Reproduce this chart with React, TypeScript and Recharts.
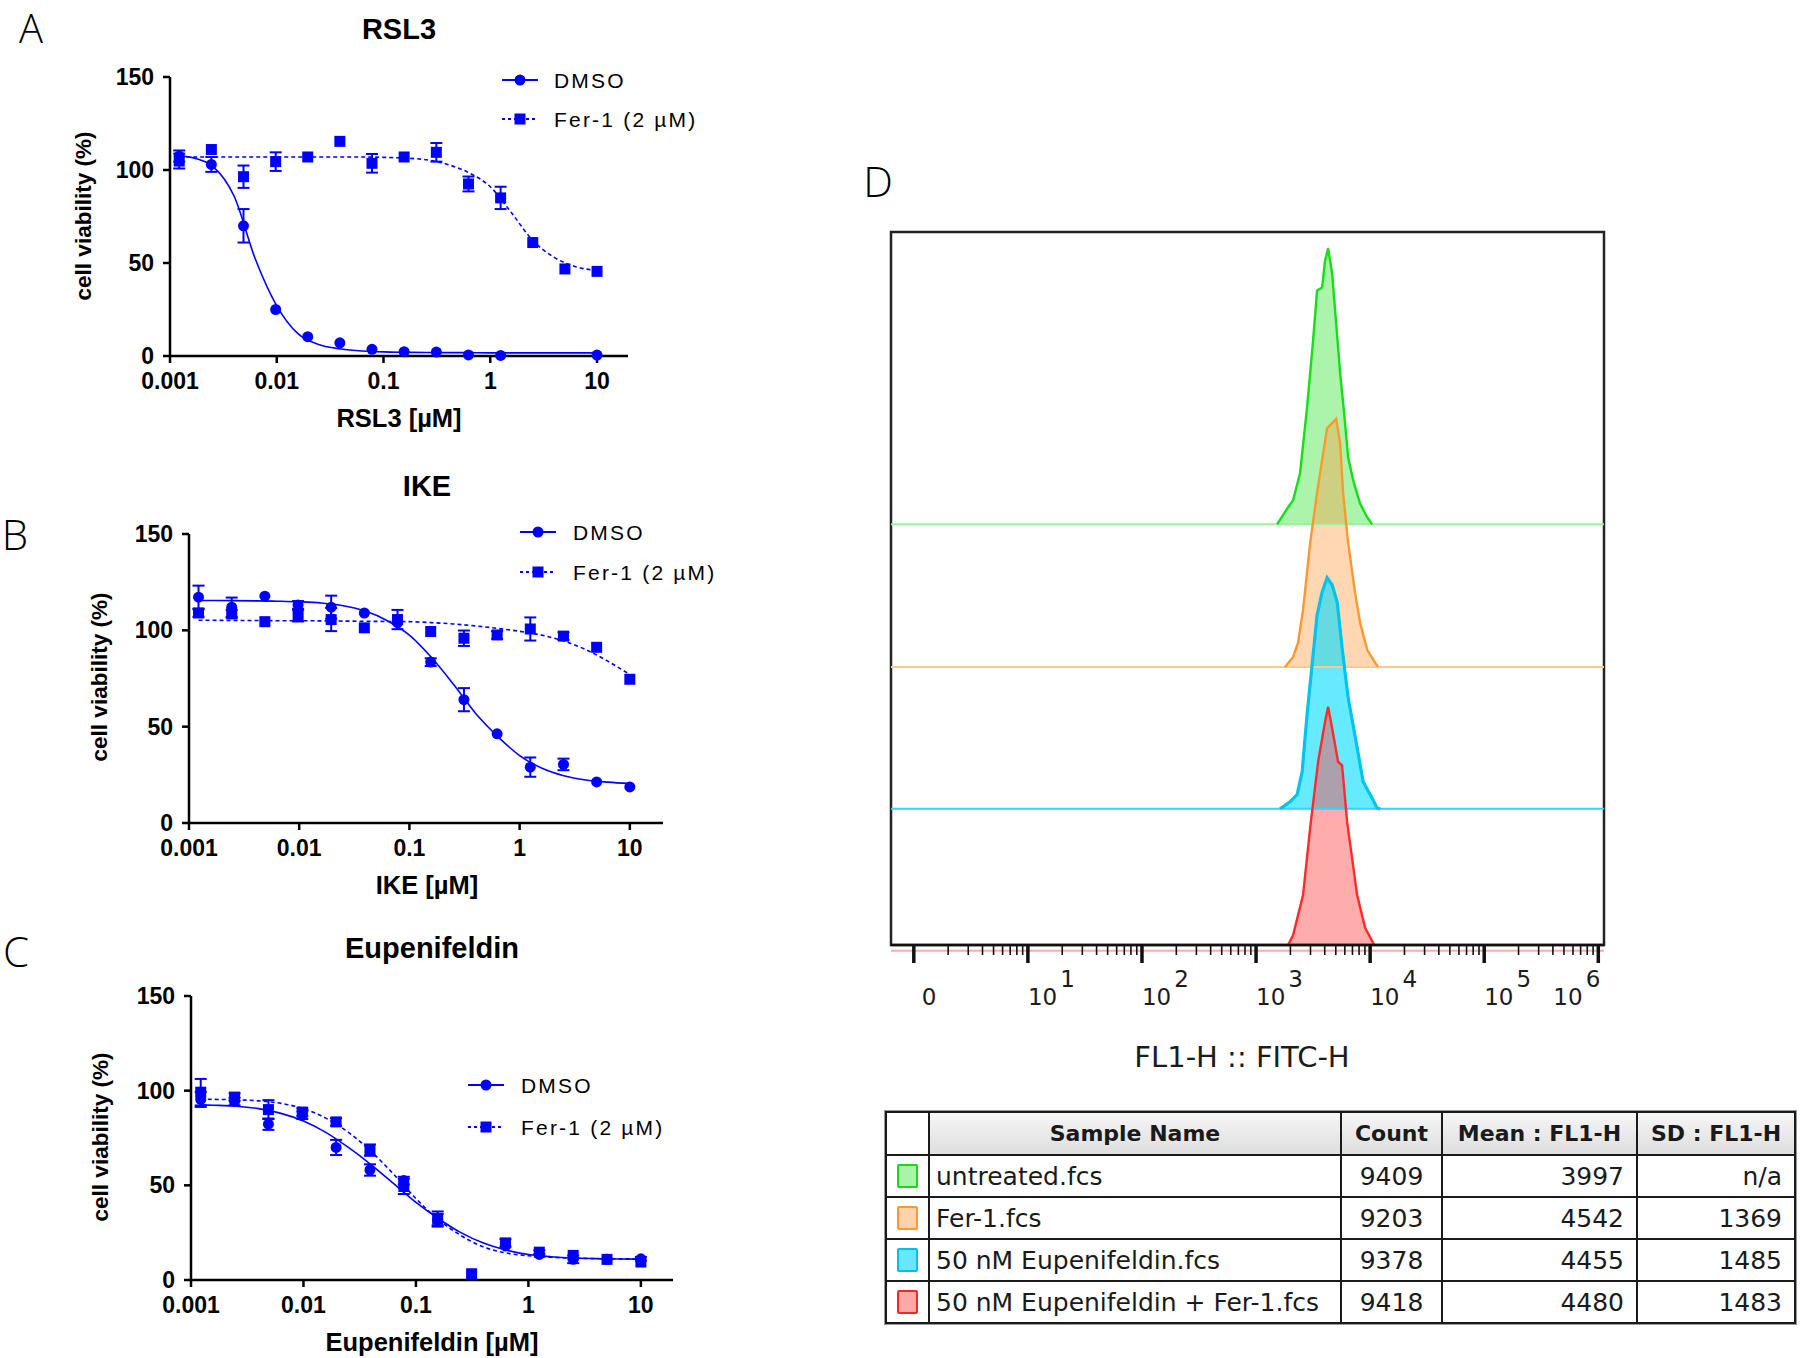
import React from "react";
import {
  ComposedChart,
  Line,
  Scatter,
  XAxis,
  YAxis,
  ErrorBar,
  Area,
  ReferenceLine,
  ReferenceArea,
} from "recharts";

const BLUE = "#0000ff";
const SANS = "'Liberation Sans', Arial, sans-serif";
const DEJAVU = "'DejaVu Sans', sans-serif";

// 2-fold dilution series (µM)
const conc = [0.00122, 0.00244, 0.00488, 0.00977, 0.0195, 0.039, 0.078, 0.156, 0.3125, 0.625, 1.25, 2.5, 5, 10];
const fitX = [0.00122, 0.00158, 0.00251, 0.00398, 0.00631, 0.01, 0.0158, 0.0251, 0.0398, 0.0631, 0.1, 0.158, 0.251, 0.398, 0.631, 1, 1.58, 2.51, 3.98, 6.31, 10];
const doseTicks = [0.001, 0.01, 0.1, 1, 10];
const viabilityTicks = [0, 50, 100, 150];

// RSL3
const rslDmso = [107.5, 103, 70, 25, 10.4, 7.1, 3.6, 2.3, 2.1, 0.6, 0.3, null, null, 0.5];
const rslDmsoErr = [3, 4, 9, 0, 0, 0, 0, 0, 0, 0, 0, 0, 0, 0];
const rslFer = [104.8, 111, 96.4, 104.5, 107, 115.4, 103.6, 107, 109.5, 92.5, 85, 61, 46.8, 45.5];
const rslFerErr = [4, 0, 6, 5, 0, 0, 5, 0, 5, 4, 6, 0, 0, 0];
const rslDmsoFit = [107.5, 106.8, 102, 86, 52, 27, 12, 6, 3.8, 2.7, 2.2, 2, 1.9, 1.8, 1.8, 1.7, 1.7, 1.7, 1.7, 1.7, 1.7];
const rslFerFit = [107, 107, 107, 107, 107, 107, 107, 107, 107, 107, 106.8, 106.4, 105.5, 103, 98.5, 91, 77, 62, 53, 48, 46];

// IKE
const ikeDmso = [117.2, 112, 117.7, 113.2, 112, 109, 104, 83.5, 64, 46.3, 29, 30.4, 21.3, 18.7];
const ikeDmsoErr = [6, 5, 0, 2, 6, 0, 0, 2, 6, 0, 5, 3, 0, 0];
const ikeFer = [109, 108.5, 104.5, 107.6, 105.6, 101.3, 105.6, 99.4, 95.9, 97.6, 100.7, 97, 91.2, 74.6];
const ikeFerErr = [2, 2, 0, 3, 6, 0, 5, 0, 4, 2, 6, 2, 0, 0];
const ikeDmsoFit = [115.5, 115.5, 115.4, 115.3, 115.1, 114.8, 114.2, 112.8, 110, 105, 97.5, 86, 72, 57, 45, 35, 28.5, 24.5, 22.3, 21.2, 20.5];
const ikeFerFit = [105.2, 105.2, 105.1, 105.1, 105, 105, 104.9, 104.8, 104.7, 104.6, 104.5, 104, 103.3, 102.3, 101, 99.5, 97.5, 94.5, 90, 84, 77];

// Eupenifeldin
const eupDmso = [95.4, 94.3, 82.3, 87, 70, 58.1, 52.5, 31.9, null, 18, 13.5, 10.9, 10.9, 11.2];
const eupDmsoErr = [4, 2, 3, 2, 4, 3, 2, 3, 0, 0, 0, 2, 0, 1];
const eupFer = [99.2, 96.6, 90, 88.7, 83.5, 68.6, 49.4, 32.2, 3.3, 19.6, 14.7, 13, 10.9, 9.5];
const eupFerErr = [7, 2, 5, 2, 2, 3, 4, 4, 0, 2, 1, 0, 0, 0];
const eupDmsoFit = [92.5, 92.3, 91.8, 90.5, 88, 84, 78, 70, 61, 51, 41, 32.5, 25, 19.5, 15.8, 13.5, 12.3, 11.6, 11.3, 11.1, 11];
const eupFerFit = [95.5, 95.4, 95.2, 94.6, 93.3, 90.5, 85.5, 78, 68, 56, 43, 32, 23.5, 17.5, 14.3, 12.8, 12, 11.6, 11.3, 11.2, 11.1];

// Flow histograms: x in decades of FL1-H, height in % of plot height
const greenX = [3.184, 3.281, 3.325, 3.386, 3.447, 3.5, 3.535, 3.579, 3.605, 3.632, 3.667, 3.702, 3.737, 3.772, 3.807, 3.851, 3.912, 3.974, 4.018];
const greenH = [0, 2.4, 3.4, 7.2, 16.4, 25.8, 32.8, 33.2, 37.0, 38.7, 35.2, 28.2, 21.2, 15.6, 9.4, 6.2, 2.9, 1.0, 0];
const orangeX = [3.254, 3.325, 3.368, 3.412, 3.474, 3.535, 3.579, 3.623, 3.667, 3.702, 3.737, 3.763, 3.807, 3.868, 3.912, 3.974, 4.044, 4.07];
const orangeH = [0, 1.4, 3.4, 8.0, 17.4, 24.4, 29.0, 33.5, 34.2, 34.8, 31.4, 24.4, 17.4, 10.4, 6.2, 2.4, 0.6, 0];
const cyanX = [3.211, 3.298, 3.36, 3.404, 3.447, 3.491, 3.535, 3.579, 3.623, 3.667, 3.711, 3.754, 3.807, 3.886, 3.939, 4.018, 4.061, 4.088];
const cyanH = [0, 1.0, 2.0, 5.2, 13.2, 20.2, 27.2, 30.4, 32.4, 31.4, 29.0, 22.6, 15.6, 8.6, 3.8, 1.5, 0.1, 0];
const redX = [3.281, 3.325, 3.412, 3.474, 3.544, 3.605, 3.632, 3.667, 3.719, 3.754, 3.798, 3.886, 3.956, 4.026, 4.04];
const redH = [0, 1.4, 7.0, 16.4, 25.7, 31.3, 33.4, 30.4, 25.7, 25.2, 17.3, 7.0, 2.4, 0.3, 0];
const flowMajor = [0, 1, 2, 3, 4, 5, 6];
const minorSteps = [2, 3, 4, 5, 6, 7, 8, 9];

// Table
const sampleNames = ["untreated.fcs", "Fer-1.fcs", "50 nM Eupenifeldin.fcs", "50 nM Eupenifeldin + Fer-1.fcs"];
const sampleCounts = ["9409", "9203", "9378", "9418"];
const sampleMeans = ["3997", "4542", "4455", "4480"];
const sampleSDs = ["n/a", "1369", "1485", "1483"];

const layers = [
  { x: greenX, h: greenH, offset: 59.0, stroke: "#14e014", fill: "#18e018", fillOpacity: 0.36, base: "#9af29a" },
  { x: orangeX, h: orangeH, offset: 39.0, stroke: "#ff982c", fill: "#ff9c40", fillOpacity: 0.4, base: "#ffc894" },
  { x: cyanX, h: cyanH, offset: 19.1, stroke: "#00c4ee", fill: "#00dcff", fillOpacity: 0.6, base: "#30d4f6" },
  { x: redX, h: redH, offset: 0, stroke: "#ff2a2a", fill: "#ff4848", fillOpacity: 0.45, base: "#ffaaaa" },
];
const swatches = [
  { fill: "#a8f5a8", stroke: "#18d818" },
  { fill: "#ffd4ac", stroke: "#ff9830" },
  { fill: "#66e6ff", stroke: "#00bfe8" },
  { fill: "#ffa8a8", stroke: "#f02a2a" },
];

const pts = (ys: (number | null)[], errs: number[]) =>
  conc
    .map((x, i) => ({ x, y: ys[i], err: errs[i] || undefined }))
    .filter((d) => d.y !== null);

const fitPts = (ys: number[]) => fitX.map((x, i) => ({ x, y: ys[i] }));

const Dot = (p: any) => <circle cx={p.cx} cy={p.cy} r={5.5} fill={BLUE} />;
const Sq = (p: any) => <rect x={p.cx - 5.5} y={p.cy - 5.5} width={11} height={11} fill={BLUE} />;

type DoseProps = {
  left: number;
  top: number;
  plotW: number;
  plotH: number;
  xMax: number;
  dmso: (number | null)[];
  dmsoErr: number[];
  fer: (number | null)[];
  ferErr: number[];
  dmsoFit: number[];
  ferFit: number[];
};

function DoseChart({ left, top, plotW, plotH, xMax, dmso, dmsoErr, fer, ferErr, dmsoFit, ferFit }: DoseProps) {
  const mL = 5, yW = 80, mT = 12, xH = 50, mB = 5, mR = 8;
  const tick = { fontSize: 23, fontWeight: 700, fill: "#000", fontFamily: SANS };
  return (
    <div style={{ position: "absolute", left: left - mL - yW, top: top - mT }}>
      <ComposedChart
        width={plotW + mL + yW + mR}
        height={plotH + mT + xH + mB}
        margin={{ top: mT, right: mR, bottom: mB, left: mL }}
      >
        <XAxis
          type="number"
          dataKey="x"
          scale="log"
          domain={[0.001, xMax]}
          ticks={doseTicks}
          interval={0}
          tickFormatter={(v: number) => String(v)}
          height={xH}
          axisLine={{ stroke: "#000", strokeWidth: 2.5 }}
          tickLine={{ stroke: "#000", strokeWidth: 2.5 }}
          tickSize={7}
          tickMargin={10}
          tick={tick}
        />
        <YAxis
          type="number"
          dataKey="y"
          domain={[0, 150]}
          ticks={viabilityTicks}
          interval={0}
          width={yW}
          axisLine={{ stroke: "#000", strokeWidth: 2.5 }}
          tickLine={{ stroke: "#000", strokeWidth: 2.5 }}
          tickSize={7}
          tickMargin={9}
          tick={tick}
        />
        <Line data={fitPts(dmsoFit)} dataKey="y" type="monotone" stroke={BLUE} strokeWidth={1.6} dot={false} isAnimationActive={false} />
        <Line data={fitPts(ferFit)} dataKey="y" type="monotone" stroke={BLUE} strokeWidth={1.6} strokeDasharray="4 3" dot={false} isAnimationActive={false} />
        <Scatter data={pts(dmso, dmsoErr)} shape={Dot} fill={BLUE} isAnimationActive={false}>
          <ErrorBar dataKey="err" direction="y" width={6} stroke={BLUE} strokeWidth={2} />
        </Scatter>
        <Scatter data={pts(fer, ferErr)} shape={Sq} fill={BLUE} isAnimationActive={false}>
          <ErrorBar dataKey="err" direction="y" width={6} stroke={BLUE} strokeWidth={2} />
        </Scatter>
      </ComposedChart>
    </div>
  );
}

function DoseLegend({ x, y, gap, textX }: { x: number; y: number; gap: number; textX: number }) {
  const text = { fontSize: 21, fontFamily: SANS, fill: "#000", letterSpacing: 2.2 };
  return (
    <svg style={{ position: "absolute", left: x, top: y - 15 }} width={textX + 170} height={gap + 30}>
      <line x1={0} x2={36} y1={15} y2={15} stroke={BLUE} strokeWidth={2} />
      <circle cx={18} cy={15} r={5.5} fill={BLUE} />
      <text x={textX} y={15} dominantBaseline="central" {...text}>DMSO</text>
      <line x1={0} x2={36} y1={15 + gap} y2={15 + gap} stroke={BLUE} strokeWidth={2} strokeDasharray="3 3" />
      <rect x={12.5} y={9.5 + gap} width={11} height={11} fill={BLUE} />
      <text x={textX} y={15 + gap} dominantBaseline="central" {...text}>Fer-1 (2 µM)</text>
    </svg>
  );
}

const centered = (x: number, y: number, style: React.CSSProperties, text: string, rotate = false) => (
  <div
    style={{
      position: "absolute",
      left: x,
      top: y,
      transform: `translate(-50%, -50%)${rotate ? " rotate(-90deg)" : ""}`,
      whiteSpace: "nowrap",
      ...style,
    }}
  >
    {text}
  </div>
);

const letterStyle: React.CSSProperties = { fontFamily: "'Open Sans', sans-serif", fontWeight: 300, fontSize: 42, lineHeight: 0.8 };
const titleStyle: React.CSSProperties = { fontFamily: SANS, fontWeight: 700, fontSize: 29, lineHeight: 1 };
const xLabelStyle: React.CSSProperties = { fontFamily: SANS, fontWeight: 700, fontSize: 25.5, lineHeight: 1 };
const yLabelStyle: React.CSSProperties = { fontFamily: SANS, fontWeight: 700, fontSize: 22.5, lineHeight: 1 };

function FlowTick(props: any) {
  const { x, y, payload } = props;
  const v: number = payload.value;
  const major = Number.isInteger(v);
  const mark = (
    <line x1={x} x2={x} y1={y} y2={y + (major ? 18 : 10)} stroke="#111" strokeWidth={major ? 3.5 : 1.6} />
  );
  if (!major) return mark;
  const label = { fontFamily: DEJAVU, fontSize: 23, fill: "#1c1c1c" };
  return (
    <g>
      {mark}
      {v === 0 ? (
        <text x={x + 8} y={y + 60} {...label}>0</text>
      ) : (
        <text x={v === 6 ? x + 2 : x} y={y + 60} textAnchor={v === 6 ? "end" : "start"} {...label}>
          10
          <tspan dx={3} dy={-18}>{v}</tspan>
        </text>
      )}
    </g>
  );
}

function FlowChart() {
  const ticks = [
    ...flowMajor,
    ...flowMajor.slice(0, -1).flatMap((k) => minorSteps.map((m) => k + Math.log10(m))),
  ];
  return (
    <div style={{ position: "absolute", left: 870, top: 220 }}>
      <ComposedChart width={760} height={820} margin={{ top: 12, right: 26, bottom: 35, left: 21 }}>
        <XAxis
          type="number"
          dataKey="x"
          domain={[-0.2, 6.05]}
          ticks={ticks}
          interval={0}
          height={60}
          tickSize={0}
          tickMargin={0}
          tickLine={false}
          axisLine={{ stroke: "#111", strokeWidth: 2.5 }}
          tick={FlowTick}
        />
        <YAxis type="number" dataKey="y" domain={[0, 100]} hide />
        {layers.map((l, i) => (
          <ReferenceLine
            key={`b${i}`}
            y={i === 3 ? -0.8 : l.offset}
            stroke={l.base}
            strokeWidth={2}
            ifOverflow="visible"
          />
        ))}
        {layers.flatMap((l, i) => {
          const data = l.x.map((x, j) => ({ x, y: l.offset + l.h[j] }));
          return [
            <Area
              key={`a${i}`}
              data={data}
              dataKey="y"
              type="linear"
              baseValue={l.offset}
              stroke="none"
              fill={l.fill}
              fillOpacity={l.fillOpacity}
              isAnimationActive={false}
            />,
            <Line
              key={`l${i}`}
              data={data}
              dataKey="y"
              type="linear"
              stroke={l.stroke}
              strokeWidth={i === 2 ? 3.2 : 2.4}
              dot={false}
              isAnimationActive={false}
            />,
          ];
        })}
        <ReferenceArea x1={-0.2} x2={6.05} y1={0} y2={100} fill="#fff" fillOpacity={0} stroke="#222" strokeWidth={2.5} />
      </ComposedChart>
    </div>
  );
}

function SampleTable() {
  const cell: React.CSSProperties = {
    border: "2px solid #1a1a1a",
    padding: "0 8px",
    fontFamily: DEJAVU,
    fontSize: 25,
    color: "#1a1a1a",
    whiteSpace: "nowrap",
    overflow: "hidden",
  };
  const head: React.CSSProperties = {
    ...cell,
    fontSize: 22,
    fontWeight: 700,
    textAlign: "center",
    background: "linear-gradient(#f6f6f6, #dedede)",
    padding: "0 4px",
  };
  return (
    <table
      style={{
        position: "absolute",
        left: 885,
        top: 1111,
        width: 909,
        borderCollapse: "collapse",
        tableLayout: "fixed",
        outline: "1px solid #999",
      }}
    >
      <colgroup>
        <col style={{ width: 43 }} />
        <col style={{ width: 412 }} />
        <col style={{ width: 101 }} />
        <col style={{ width: 195 }} />
        <col style={{ width: 158 }} />
      </colgroup>
      <thead>
        <tr style={{ height: 43 }}>
          <th style={{ ...cell }} />
          <th style={head}>Sample Name</th>
          <th style={head}>Count</th>
          <th style={head}>Mean : FL1-H</th>
          <th style={head}>SD : FL1-H</th>
        </tr>
      </thead>
      <tbody>
        {sampleNames.map((name, i) => (
          <tr key={name} style={{ height: 42 }}>
            <td style={{ ...cell, padding: 0, textAlign: "center" }}>
              <div
                style={{
                  width: 17,
                  height: 20,
                  margin: "0 auto",
                  background: swatches[i].fill,
                  border: `2px solid ${swatches[i].stroke}`,
                  borderRadius: 2,
                }}
              />
            </td>
            <td style={{ ...cell, padding: "0 6px" }}>{name}</td>
            <td style={{ ...cell, textAlign: "center", padding: 0 }}>{sampleCounts[i]}</td>
            <td style={{ ...cell, textAlign: "right", paddingRight: 12 }}>{sampleMeans[i]}</td>
            <td style={{ ...cell, textAlign: "right", paddingRight: 12 }}>{sampleSDs[i]}</td>
          </tr>
        ))}
      </tbody>
    </table>
  );
}

export default function App() {
  return (
    <div style={{ position: "absolute", left: 0, top: 0, width: 1800, height: 1358, background: "#fff", overflow: "hidden" }}>
      <div
        style={{
          position: "absolute",
          left: 19,
          top: 0,
          fontFamily: "'Open Sans', sans-serif",
          fontWeight: 300,
          fontSize: 40,
          lineHeight: "normal",
        }}
      >
        A
      </div>
      {centered(15, 534, letterStyle, "B")}
      {centered(16, 951, letterStyle, "C")}
      {centered(878, 181, letterStyle, "D")}

      {centered(399, 29, titleStyle, "RSL3")}
      {centered(427, 486, titleStyle, "IKE")}
      {centered(432, 948, titleStyle, "Eupenifeldin")}

      {centered(399, 419, xLabelStyle, "RSL3 [µM]")}
      {centered(427, 886, xLabelStyle, "IKE [µM]")}
      {centered(432, 1343, xLabelStyle, "Eupenifeldin [µM]")}

      {centered(84, 216, yLabelStyle, "cell viability (%)", true)}
      {centered(100, 677, yLabelStyle, "cell viability (%)", true)}
      {centered(101, 1137, yLabelStyle, "cell viability (%)", true)}

      <DoseChart left={170} top={77} plotW={458} plotH={279} xMax={19.5}
        dmso={rslDmso} dmsoErr={rslDmsoErr} fer={rslFer} ferErr={rslFerErr}
        dmsoFit={rslDmsoFit} ferFit={rslFerFit} />
      <DoseChart left={189} top={534} plotW={474} plotH={289} xMax={20}
        dmso={ikeDmso} dmsoErr={ikeDmsoErr} fer={ikeFer} ferErr={ikeFerErr}
        dmsoFit={ikeDmsoFit} ferFit={ikeFerFit} />
      <DoseChart left={191} top={996} plotW={482} plotH={284} xMax={19.3}
        dmso={eupDmso} dmsoErr={eupDmsoErr} fer={eupFer} ferErr={eupFerErr}
        dmsoFit={eupDmsoFit} ferFit={eupFerFit} />

      <DoseLegend x={502} y={80} gap={39} textX={52} />
      <DoseLegend x={520} y={532} gap={40} textX={53} />
      <DoseLegend x={468} y={1085} gap={42} textX={53} />

      <FlowChart />
      {centered(1242, 1057, { fontFamily: DEJAVU, fontSize: 29, color: "#1c1c1c", lineHeight: 1 }, "FL1-H :: FITC-H")}

      <SampleTable />
    </div>
  );
}
